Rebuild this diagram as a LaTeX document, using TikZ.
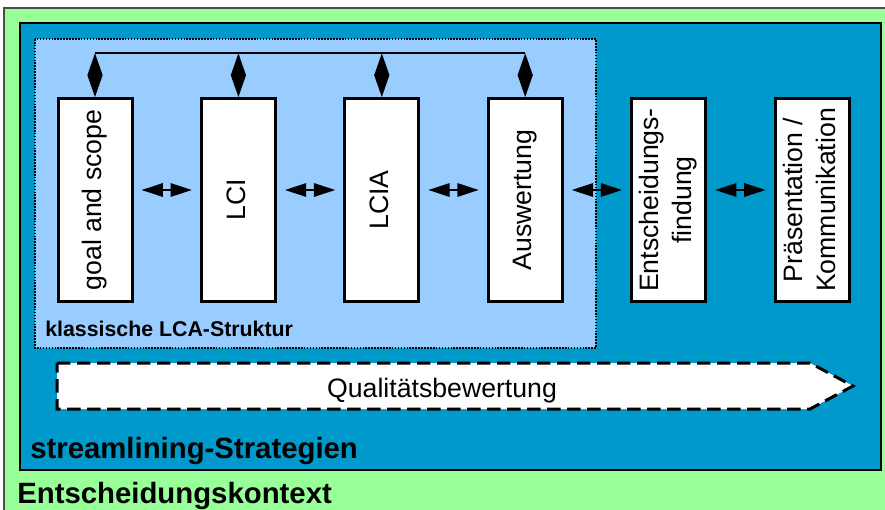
\documentclass[tikz,border=0pt]{standalone}
\usepackage{fontspec}
\setmainfont{Liberation Sans}
\usepackage{xcolor}
\usetikzlibrary{arrows.meta, positioning}

\definecolor{kontextgreen}{HTML}{99FF99}
\definecolor{streamblue}{HTML}{0099CC}
\definecolor{lcablue}{HTML}{99CCFF}

\newcommand{\vtext}[1]{\rotatebox{90}{\begin{tabular}{@{}c@{}}#1\end{tabular}}}

\begin{document}
\begin{tikzpicture}[
  x=0.75pt, y=-0.75pt,
  phase/.style={rectangle, draw, line width=2.25pt, fill=white, minimum width=55.5pt,
    minimum height=152pt, inner sep=0pt, font=\fontsize{20}{25}\selectfont},
  link/.style={{Triangle[length=16pt, width=10pt]}-{Triangle[length=16pt, width=10pt]},
    line width=1.5pt, shorten <=6pt, shorten >=6pt},
  feedback/.style={{Triangle[length=16.5pt, width=11pt]}-{Triangle[length=16.5pt, width=11pt]},
    line width=1.5pt},
  label/.style={inner sep=0pt, font=\bfseries\fontsize{22}{26}\selectfont},
  node distance=49.8pt
]
\clip (0,0) rectangle (885,510);

% nested frames
\draw[fill=kontextgreen, draw=black!70, line width=1pt] (4,8) rectangle (900,520);
\draw[fill=streamblue, line width=1.5pt] (20,23) rectangle (881,470);
\draw[fill=lcablue, densely dotted, line width=1.2pt] (35,39) rectangle (596,348);

% phases
\node[phase] (goal) at (95,200) {\vtext{goal and scope}};
\node[phase, right=of goal] (lci) {\vtext{LCI}};
\node[phase, right=of lci] (lcia) {\vtext{LCIA}};
\node[phase, right=of lcia] (ausw) {\vtext{Auswertung}};
\node[phase, right=of ausw] (entsch) {\vtext{Entscheidungs-\\findung}};
\node[phase, right=of entsch] (praes) {\vtext{Präsentation /\\Kommunikation}};

% horizontal links
\draw[link] ([yshift=7.5pt]goal.east) -- ([yshift=7.5pt]lci.west);
\draw[link] ([yshift=7.5pt]lci.east) -- ([yshift=7.5pt]lcia.west);
\draw[link] ([yshift=7.5pt]lcia.east) -- ([yshift=7.5pt]ausw.west);
\draw[link] ([yshift=7.5pt]ausw.east) -- ([yshift=7.5pt]entsch.west);
\draw[link] ([yshift=7.5pt]entsch.east) -- ([yshift=7.5pt]praes.west);

% feedback bus over the LCA phases
\foreach \p/\t in {goal/t1, lci/t2, lcia/t3, ausw/t4} {
  \path (\p.north) ++(0,-44) coordinate (\t);
  \draw[feedback] (\p.north) -- (\t);
}
\draw[line width=1.5pt] (t1) -- (t4);

% quality assessment arrow
\draw[fill=white, line width=2.25pt, dash pattern=on 10pt off 5pt]
  (57,363) -- (810,363) -- (853,386) -- (810,409) -- (57,409) -- cycle;
\node[anchor=base, inner sep=0pt, font=\fontsize{20}{24}\selectfont] (qual) at (442,397) {Qualitätsbewertung};

% frame labels
\node[label, anchor=base west, font=\bfseries\fontsize{16}{19}\selectfont] (lcalabel) at (45,336) {klassische LCA-Struktur};
\node[label, anchor=base west] (streamlabel) at (30,458) {streamlining-Strategien};
\node[label, anchor=base west] (kontextlabel) at (17,503) {Entscheidungskontext};
\end{tikzpicture}
\end{document}
